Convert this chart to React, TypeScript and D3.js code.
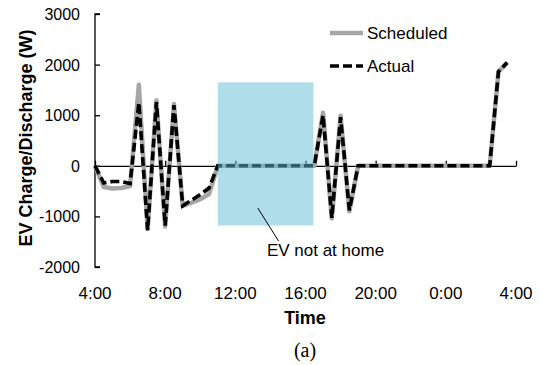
import React, { useEffect, useRef } from "react";
import * as d3 from "d3";

// half-hour slots, 4:00 -> 3:30 next day
const slots = [
  "4:00", "4:30", "5:00", "5:30", "6:00", "6:30", "7:00", "7:30",
  "8:00", "8:30", "9:00", "9:30", "10:00", "10:30", "11:00", "11:30",
  "12:00", "12:30", "13:00", "13:30", "14:00", "14:30", "15:00", "15:30",
  "16:00", "16:30", "17:00", "17:30", "18:00", "18:30", "19:00", "19:30",
  "20:00", "20:30", "21:00", "21:30", "22:00", "22:30", "23:00", "23:30",
  "0:00", "0:30", "1:00", "1:30", "2:00", "2:30", "3:00", "3:30",
];
const scheduled = [
  0, -420, -450, -440, -400, 1600, -1250, 1290,
  -1200, 1220, -790, -730, -660, -560, 0, 0,
  0, 0, 0, 0, 0, 0, 0, 0,
  0, 0, 1050, -1040, 990, -900, 0, 0,
  0, 0, 0, 0, 0, 0, 0, 0,
  0, 0, 0, 0, 0, 0, 1860, 2040,
];
const actual = [
  0, -340, -310, -310, -350, 1250, -1270, 1260,
  -1180, 1200, -790, -680, -570, -440, 0, 0,
  0, 0, 0, 0, 0, 0, 0, 0,
  0, 0, 1000, -1030, 960, -880, 0, 0,
  0, 0, 0, 0, 0, 0, 0, 0,
  0, 0, 0, 0, 0, 0, 1860, 2040,
];
const yTicks = [-2000, -1000, 0, 1000, 2000, 3000];
const xTickHours = [0, 4, 8, 12, 16, 20, 24];
const xTickLabels = ["4:00", "8:00", "12:00", "16:00", "20:00", "0:00", "4:00"];
const notHome = { from: "11:00", to: "16:27", top: 1650, bottom: -1180 };

const FONT = "'Liberation Sans', Arial, sans-serif";

const hoursFrom4 = (s: string) => {
  const [h, m] = s.split(":").map(Number);
  return ((h - 4 + 24) % 24) + m / 60;
};

const App = () => {
  const ref = useRef<SVGSVGElement>(null);

  useEffect(() => {
    const svg = d3.select(ref.current);
    svg.selectAll("*").remove();

    const x = d3.scaleLinear().domain([0, 24]).range([95, 516]);
    const y = d3.scaleLinear().domain([-2000, 3000]).range([267, 14]);

    // y axis, ticks pointing inside
    const yAxis = svg.append("g").attr("transform", `translate(${x(0)},0)`);
    yAxis.call(d3.axisRight(y).tickValues(yTicks).tickSize(5).tickFormat(() => ""));
    yAxis.selectAll("path,line").attr("stroke", "#000").attr("stroke-width", 1.3);
    yAxis.select(".domain").attr("d", `M5,${y(3000)}H0V${y(-2000)}H5`);

    svg
      .append("g")
      .selectAll("text")
      .data(yTicks)
      .join("text")
      .attr("x", 80)
      .attr("y", (d) => y(d) + 6)
      .attr("text-anchor", "end")
      .attr("font-family", FONT)
      .attr("font-size", 16)
      .text((d) => d);

    // x axis along zero, ticks upward
    const xAxis = svg.append("g").attr("transform", `translate(0,${y(0)})`);
    xAxis.call(d3.axisTop(x).tickValues(xTickHours).tickSize(5).tickSizeOuter(0).tickFormat(() => ""));
    xAxis.selectAll("path,line").attr("stroke", "#000").attr("stroke-width", 1.3);

    svg
      .append("g")
      .selectAll("text")
      .data(xTickHours)
      .join("text")
      .attr("x", (d) => x(d))
      .attr("y", 299)
      .attr("text-anchor", "middle")
      .attr("font-family", FONT)
      .attr("font-size", 17)
      .text((d, i) => xTickLabels[i]);

    const pts = slots.map((s) => hoursFrom4(s));
    const lineGen = d3
      .line<number>()
      .x((d, i) => x(pts[i]))
      .y((d) => y(d));

    svg
      .append("path")
      .attr("d", lineGen(scheduled))
      .attr("fill", "none")
      .attr("stroke", "#a6a6a6")
      .attr("stroke-width", 4.5)
      .attr("stroke-linejoin", "round");

    svg
      .append("path")
      .attr("d", lineGen(actual))
      .attr("fill", "none")
      .attr("stroke", "#000")
      .attr("stroke-width", 3.6)
      .attr("stroke-dasharray", "9,4");

    // EV not at home box (translucent, over the lines)
    svg
      .append("rect")
      .attr("x", x(hoursFrom4(notHome.from)))
      .attr("y", y(notHome.top))
      .attr("width", x(hoursFrom4(notHome.to)) - x(hoursFrom4(notHome.from)))
      .attr("height", y(notHome.bottom) - y(notHome.top))
      .attr("fill", "#5fbcd3")
      .attr("fill-opacity", 0.5);

    svg
      .append("line")
      .attr("x1", x(9.28))
      .attr("y1", y(-835))
      .attr("x2", x(10.47))
      .attr("y2", y(-1490))
      .attr("stroke", "#000")
      .attr("stroke-width", 1);

    svg
      .append("text")
      .attr("x", x(9.8))
      .attr("y", 256)
      .attr("font-family", FONT)
      .attr("font-size", 17)
      .text("EV not at home");

    // legend
    const legend = [
      { label: "Scheduled", color: "#a6a6a6", w: 4.5, dash: null, yy: 33 },
      { label: "Actual", color: "#000", w: 3.6, dash: "9,4", yy: 66 },
    ];
    const lg = svg.append("g").selectAll("g").data(legend).join("g");
    lg.append("line")
      .attr("x1", 330)
      .attr("x2", 363)
      .attr("y1", (d) => d.yy)
      .attr("y2", (d) => d.yy)
      .attr("stroke", (d) => d.color)
      .attr("stroke-width", (d) => d.w)
      .attr("stroke-dasharray", (d) => d.dash);
    lg.append("text")
      .attr("x", 367)
      .attr("y", (d) => d.yy + 6)
      .attr("font-family", FONT)
      .attr("font-size", 17)
      .text((d) => d.label);

    // axis titles
    svg
      .append("text")
      .attr("transform", "translate(32,138) rotate(-90)")
      .attr("text-anchor", "middle")
      .attr("font-family", FONT)
      .attr("font-weight", "bold")
      .attr("font-size", 18)
      .text("EV Charge/Discharge (W)");

    svg
      .append("text")
      .attr("x", 305)
      .attr("y", 324)
      .attr("text-anchor", "middle")
      .attr("font-family", FONT)
      .attr("font-weight", "bold")
      .attr("font-size", 18)
      .text("Time");

    svg
      .append("text")
      .attr("x", 305)
      .attr("y", 357)
      .attr("text-anchor", "middle")
      .attr("font-family", "'Liberation Serif', 'Times New Roman', serif")
      .attr("font-size", 20)
      .text("(a)");
  }, []);

  return (
    <svg
      ref={ref}
      width={543}
      height={365}
      style={{ position: "absolute", left: 0, top: 0, background: "#fff" }}
    />
  );
};

export default App;
